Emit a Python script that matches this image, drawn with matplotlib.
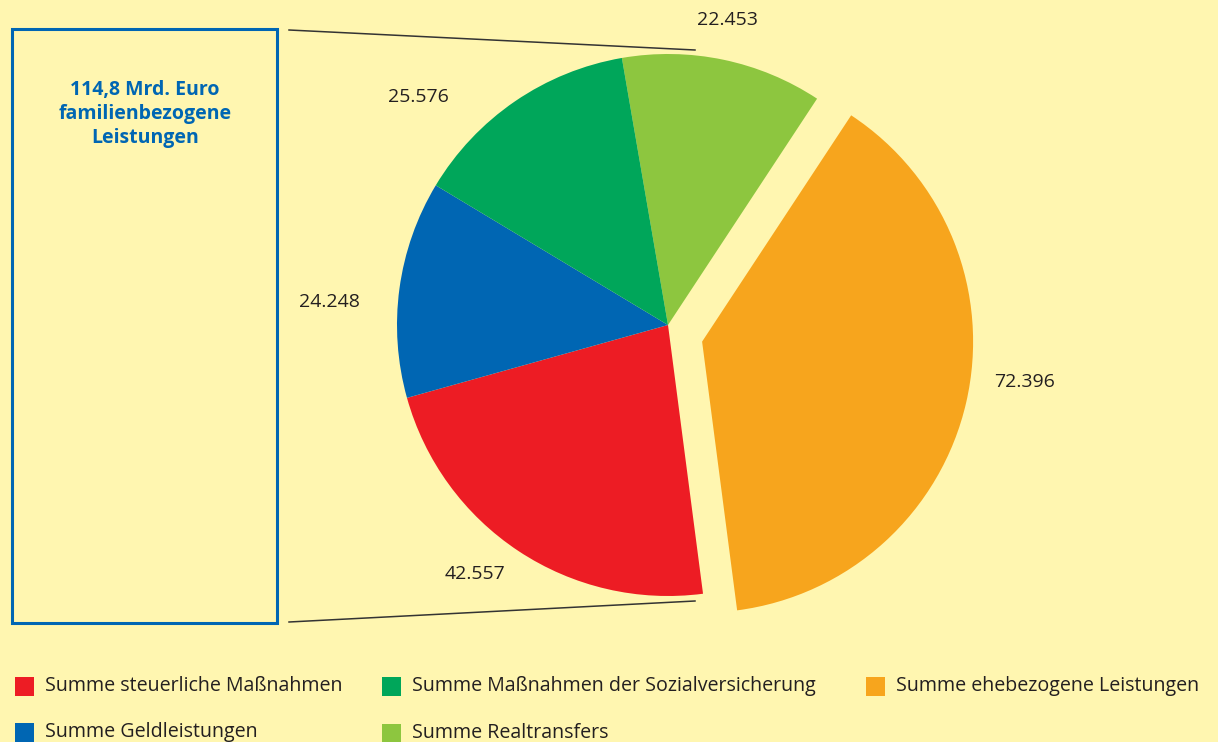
import matplotlib.pyplot as plt
from matplotlib.patches import Rectangle
import numpy as np

plt.rcParams["font.family"] = ["Open Sans", "DejaVu Sans"]

# Werte in Mrd. Euro, im Uhrzeigersinn ab oben
labels = ["Summe Realtransfers", "Summe ehebezogene Leistungen",
          "Summe steuerliche Maßnahmen", "Summe Geldleistungen",
          "Summe Maßnahmen der Sozialversicherung"]
values = [22.453, 72.396, 42.557, 24.248, 25.576]
colors = ["#8DC63F", "#F7A51D", "#ED1C24", "#0066B3", "#00A65A"]
explode = [0, 0.14, 0, 0, 0]
box_text = "114,8 Mrd. Euro\nfamilienbezogene\nLeistungen"

bg = "#FFF6B0"
txt = "#231F20"
W, H = 1218, 742

fig = plt.figure(figsize=(W / 100, H / 100), dpi=100, facecolor=bg)
ax = fig.add_axes([0, 0, 1, 1])
ax.set_facecolor(bg)

# pixel layout, y measured from the top
def py(y):
    return H - y

cx, cy, r = 668, py(325), 271
# pie() takes explode in data units, so scale by the radius
wedges, _ = ax.pie(values, colors=colors, explode=[e * r for e in explode],
                   startangle=99.8, counterclock=False, radius=r,
                   center=(cx, cy), frame=True,
                   wedgeprops=dict(linewidth=0))

# pull the exploded slice a little further down than its mid-angle
for w, e in zip(wedges, explode):
    if e:
        a = np.deg2rad(-26)
        w.set_center((cx + e * r * np.cos(a), cy + e * r * np.sin(a)))

# value labels around the pie
label_pos = [(727, 20), (1025, 382), (475, 574), (329, 302), (418, 97)]
for v, (lx, ly) in zip(values, label_pos):
    ax.text(lx, py(ly), f"{v:.3f}", ha="center", va="center",
            fontsize=14, color=txt)

# box on the left with connector lines
ax.add_patch(Rectangle((12, py(623)), 265, 594, fill=False,
                       edgecolor="#0066B3", linewidth=2.2))
ax.text(145, py(114), box_text, ha="center", va="center", fontsize=14,
        fontweight="bold", color="#0066B3", linespacing=1.3)
ax.plot([289, 695], [py(30), py(50)], color="#333333", lw=1.1)
ax.plot([289, 695], [py(622), py(601)], color="#333333", lw=1.1)

# legend
leg_order = [2, 4, 1, 3, 0]
leg_pos = [(15, 686), (382, 686), (866, 686), (15, 732), (382, 733)]
for i, (lx, ly) in zip(leg_order, leg_pos):
    ax.add_patch(Rectangle((lx, py(ly) - 9.5), 19, 19, color=colors[i], lw=0))
    ax.text(lx + 30, py(ly), labels[i], ha="left", va="center",
            fontsize=14.1, color=txt)

ax.set_xlim(0, W)
ax.set_ylim(0, H)
ax.set_aspect("equal")
ax.axis("off")

fig.savefig("out.png", dpi=100, facecolor=bg)
